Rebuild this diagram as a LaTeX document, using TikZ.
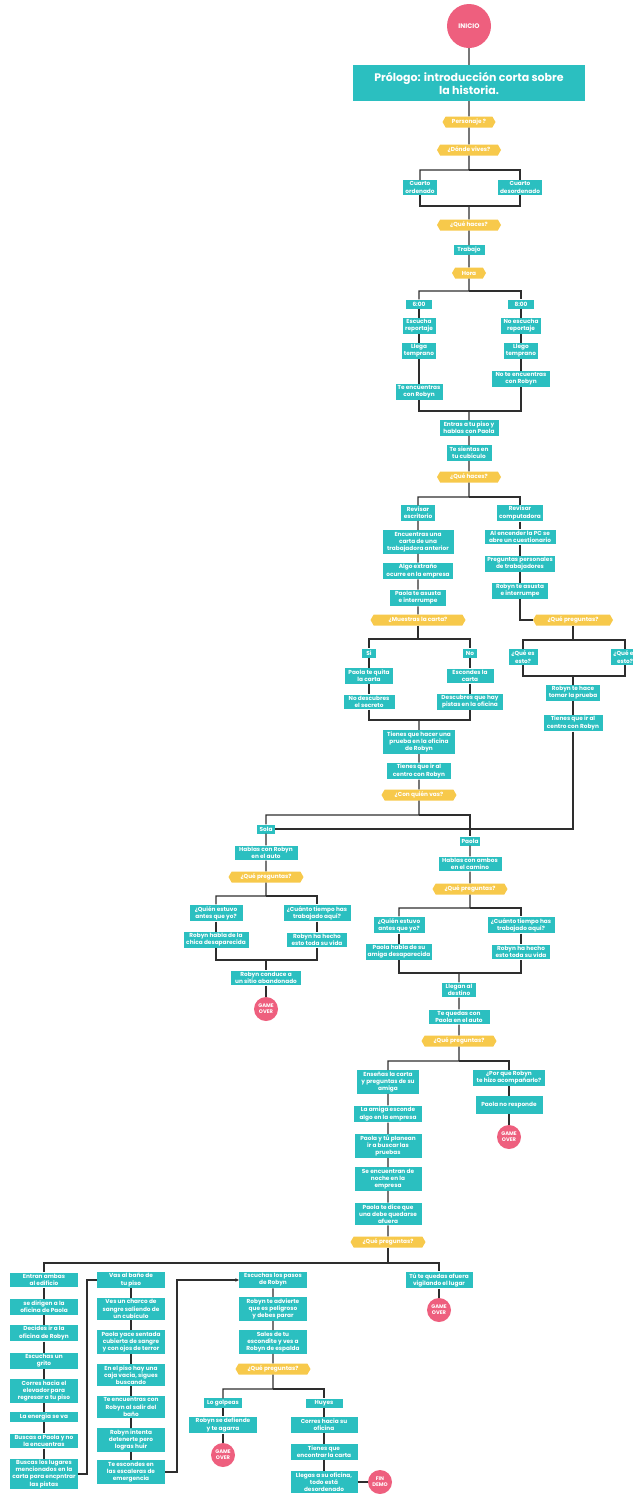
\documentclass[tikz,border=0pt]{standalone}
\usepackage{fontspec}
\setmainfont{Poppins}
\usetikzlibrary{shapes.symbols, arrows.meta}

\definecolor{boxteal}{HTML}{2BBFC0}
\definecolor{askyellow}{HTML}{F7C94B}
\definecolor{endpink}{HTML}{EE5F7E}
\definecolor{linegray}{HTML}{2E2E2E}

\newcommand{\boxfont}{\fontsize{5.8}{7.2}\selectfont\bfseries}
\newcommand{\prologfont}{\fontsize{11}{13}\selectfont\bfseries}
\newcommand{\dotfont}{\fontsize{5.2}{6.2}\selectfont\bfseries}

\begin{document}
\begin{tikzpicture}[x=1pt, y=-1pt,
  scene/.style={rectangle, fill=boxteal, text=white, font=\boxfont, align=center,
    inner xsep=2pt, inner ysep=1.6pt, minimum height=9pt},
  ask/.style={signal, signal to=east and west, signal pointer angle=120, fill=askyellow,
    text=white, font=\boxfont, inner xsep=1pt, inner ysep=1pt, minimum height=11pt},
  ending/.style={circle, fill=endpink, text=white, font=\dotfont, align=center,
    inner sep=0pt, minimum size=24pt},
  wd/.style={minimum width=#1pt},
  link/.style={draw=linegray, line width=1.3pt}]

\useasboundingbox (0,0) rectangle (632,1494);

% --- Start ---
\node[ending, minimum size=44pt, font=\fontsize{6.6}{8}\selectfont\bfseries] (inicio) at (469,26) {INICIO};
\node[scene, font=\prologfont, wd=232, minimum height=36pt] (prologo) at (469,83) {Prólogo: introducción corta sobre\\la historia.};
\node[ask, wd=53] (personaje) at (469,122) {Personaje ?};
\node[ask, wd=64] (vives) at (469,150) {¿Dónde vives?};
\coordinate (jvives) at (469,170);
\node[scene, wd=34] (ordenado) at (420,187.5) {Cuarto\\ordenado};
\node[scene, wd=44] (desordenado) at (520,187.5) {Cuarto\\desordenado};
\coordinate (mcuarto) at (469,206);
\node[ask, wd=64] (haces) at (469,225) {¿Qué haces?};
\node[scene, wd=31] (trabajo) at (469,250) {Trabajo};
\node[ask, wd=34] (hora) at (469,273) {Hora};
\coordinate (jhora) at (469,291);

% --- Hora ---
\node[scene, wd=26] (seis) at (419,304) {6:00};
\node[scene, wd=26] (ocho) at (521,304) {8:00};
\node[scene, wd=33] (escucha) at (419,326) {Escucha\\reportaje};
\node[scene, wd=40] (noescucha) at (521,326) {No escucha\\reportaje};
\node[scene, wd=32] (llegaA) at (419,351) {Llega\\temprano};
\node[scene, wd=32] (llegoB) at (521,351) {Llego\\temprano};
\node[scene, wd=47] (teencuentras) at (419,392) {Te encuentras\\con Robyn};
\node[scene, wd=58] (noteencuentras) at (521,379) {No te encuentras\\con Robyn};
\coordinate (mhora) at (469,411);
\node[scene, wd=59] (entras) at (469,428) {Entras a tu piso y\\hablas con Paola};
\node[scene, wd=45] (sientas) at (469,453) {Te sientas en\\tu cubículo};
\node[ask, wd=64] (haces2) at (469,477) {¿Qué haces?};
\coordinate (jhaces2) at (469,497);

% --- Escritorio / computadora ---
\node[scene, wd=34] (escritorio) at (418,513) {Revisar\\escritorio};
\node[scene, wd=44] (computadora) at (520,513) {Revisar\\computadora};
\node[scene, wd=71] (carta) at (418,542) {Encuentras una\\carta de una\\trabajadora anterior};
\node[scene, wd=70] (extrano) at (418,571) {Algo extraño\\ocurre en la empresa};
\node[scene, wd=56] (asustaP) at (418,598) {Paola te asusta\\e interrumpe};
\node[scene, wd=71] (pc) at (520,537) {Al encender la PC se\\abre un cuestionario};
\node[scene, wd=70] (personales) at (520,564) {Preguntas personales\\de trabajadores};
\node[scene, wd=56] (asustaR) at (520,591) {Robyn te asusta\\e interrumpe};
\node[ask, wd=95] (muestras) at (418,620) {¿Muestras la carta?};
\node[ask, wd=80] (preguntasPC) at (573,620) {¿Qué preguntas?};
\coordinate (jmuestras) at (418,639);
\node[scene, wd=14] (si) at (369,653) {Si};
\node[scene, wd=14] (no) at (470,653) {No};
\node[scene, wd=48] (quita) at (369,676) {Paola te quita\\la carta};
\node[scene, wd=51] (nodescubres) at (369,702) {No descubres\\el secreto};
\node[scene, wd=47] (escondes) at (470,676) {Escondes la\\carta};
\node[scene, wd=66] (descubres) at (470,702) {Descubres que hay\\pistas en la oficina};
\coordinate (mmuestras) at (419,720);
\node[scene, wd=72] (prueba) at (419,742) {Tienes que hacer una\\prueba en la oficina\\de Robyn};
\node[scene, wd=64] (centroA) at (419,771) {Tienes que ir al\\centro con Robyn};
\node[ask, wd=75] (conquien) at (419,795) {¿Con quién vas?};
\coordinate (jconquien) at (419,815);
\coordinate (jpc) at (573,640);
\node[scene, wd=29] (esto1) at (523,657) {¿Qué es\\esto?};
\node[scene, wd=29] (esto2) at (625,657) {¿Qué es\\esto?};
\coordinate (mpc) at (573,676);
\node[scene, wd=54] (tomar) at (573,693) {Robyn te hace\\tomar la prueba};
\node[scene, wd=59] (centroB) at (573,723) {Tienes que ir al\\centro con Robyn};

% --- Sola ---
\node[scene, wd=18] (sola) at (266,829) {Sola};
\node[scene, wd=63] (auto) at (266,853) {Hablas con Robyn\\en el auto};
\node[ask, wd=75] (preguntasS) at (266,877) {¿Qué preguntas?};
\coordinate (jS) at (266,896);
\node[scene, wd=53] (quienS) at (216,913) {¿Quién estuvo\\antes que yo?};
\node[scene, wd=67] (cuantoS) at (317,913) {¿Cuánto tiempo has\\trabajado aquí?};
\node[scene, wd=65] (chica) at (216,940) {Robyn habla de la\\chica desaparecida};
\node[scene, wd=60] (vidaS) at (317,940) {Robyn ha hecho\\esto toda su vida};
\coordinate (mS) at (266,960);
\node[scene, wd=70] (conduce) at (266,978) {Robyn conduce a\\un sitio abandonado};
\node[ending] (overS) at (266,1009) {GAME\\OVER};

% --- Paola ---
\node[scene, wd=20] (paola) at (470,841) {Paola};
\node[scene, wd=63] (ambos) at (470,864) {Hablas con ambos\\en el camino};
\node[ask, wd=75] (preguntasP) at (470,889) {¿Qué preguntas?};
\coordinate (jP) at (470,908);
\node[scene, wd=51] (quienP) at (399,925) {¿Quién estuvo\\antes que yo?};
\node[scene, wd=67] (cuantoP) at (521,925) {¿Cuánto tiempo has\\trabajado aquí?};
\node[scene, wd=66] (amiga) at (399,952) {Paola habla de su\\amiga desaparecida};
\node[scene, wd=58] (vidaP) at (521,952) {Robyn ha hecho\\esto toda su vida};
\coordinate (mP) at (459,973);
\node[scene, wd=34] (destino) at (459,990) {Llegan al\\destino};
\node[scene, wd=61] (quedas) at (459,1017) {Te quedas con\\Paola en el auto};
\node[ask, wd=75] (preguntasD) at (459,1041) {¿Qué preguntas?};
\coordinate (jD) at (459,1061);
\node[scene, wd=62] (ensenas) at (388,1082) {Enseñas la carta\\y preguntas de su\\amiga};
\node[scene, wd=72] (porque) at (509,1078) {¿Por que Robyn\\te hizo acompañarlo?};
\node[scene, wd=67, minimum height=18pt] (noresponde) at (509,1105) {Paola no responde};
\node[ending] (overD) at (509,1137) {GAME\\OVER};
\node[scene, wd=68] (esconde) at (388,1114) {La amiga esconde\\algo en la empresa};
\node[scene, wd=67] (planean) at (388,1146) {Paola y tú planean\\ir a buscar las\\pruebas};
\node[scene, wd=67] (noche) at (388,1179) {Se encuentran de\\noche en la\\empresa};
\node[scene, wd=67] (afueraP) at (388,1214) {Paola te dice que\\una debe quedarse\\afuera};
\node[ask, wd=75] (preguntasE) at (388,1242) {¿Qué preguntas?};
\coordinate (jE) at (388,1263);

% --- Edificio: first column ---
\node[scene, wd=68] (entran) at (44,1280) {Entran ambas\\al edificio};
\node[scene, wd=68] (dirigen) at (44,1307) {se dirigen a la\\oficina de Paola};
\node[scene, wd=68] (decides) at (44,1333) {Decides ir a la\\oficina de Robyn};
\node[scene, wd=68] (grito) at (44,1361) {Escuchas un\\grito};
\node[scene, wd=68] (elevador) at (44,1391) {Corres hacia el\\elevador para\\regresar a tu piso};
\node[scene, wd=68] (energia) at (44,1417) {La energía se va};
\node[scene, wd=68] (buscasP) at (44,1441) {Buscas a Paola y no\\la encuentras};
\node[scene, wd=68] (lugares) at (44,1474) {Buscas los lugares\\mencionados en la\\carta para encpntrar\\las pistas};
\coordinate (k1) at (87,1474);

% --- Edificio: second column ---
\node[scene, wd=68] (bano) at (131,1280) {Vas al baño de\\tu piso};
\node[scene, wd=68] (charco) at (131,1309) {Ves un charco de\\sangre saliendo de\\un cubículo};
\node[scene, wd=68] (yace) at (131,1342) {Paola yace sentada\\cubierta de sangre\\y con ojos de terror};
\node[scene, wd=68] (caja) at (131,1375) {En el piso hay una\\caja vacía, sigues\\buscando};
\node[scene, wd=68] (salir) at (131,1407) {Te encuentras con\\Robyn al salir del\\baño};
\node[scene, wd=68] (huir) at (131,1440) {Robyn intenta\\detenerte pero\\logras huir};
\node[scene, wd=68] (escaleras) at (131,1472) {Te escondes en\\las escaleras de\\emergencia};
\coordinate (k2) at (177,1472);

% --- Edificio: third column ---
\node[scene, wd=68] (pasos) at (273,1280) {Escuchas los pasos\\de Robyn};
\node[scene, wd=68] (advierte) at (273,1309) {Robyn te advierte\\que es peligroso\\y debes parar};
\node[scene, wd=68] (sales) at (273,1342) {Sales de tu\\escondite y ves a\\Robyn de espalda};
\node[ask, wd=75] (preguntasF) at (273,1369) {¿Qué preguntas?};
\coordinate (jF) at (273,1389);
\node[scene, wd=38] (golpeas) at (223,1403) {Lo golpeas};
\node[scene, wd=68] (defiende) at (223,1425) {Robyn se defiende\\y te agarra};
\node[ending] (overF) at (223,1455) {GAME\\OVER};
\node[scene, wd=37] (huyes) at (324,1403) {Huyes};
\node[scene, wd=67] (corres) at (324,1425) {Corres hacia su\\oficina};
\node[scene, wd=67] (encontrar) at (324,1452) {Tienes que\\encontrar la carta};
\node[scene, wd=67] (llegas) at (324,1482) {Llegas a su oficina,\\todo está\\desordenado};
\node[ending] (fin) at (380,1482) {FIN\\DEMO};

\node[scene, wd=67] (afuera) at (439,1280) {Tú te quedas afuera\\vigilando el lugar};
\node[ending] (overA) at (439,1310) {GAME\\OVER};

% --- Connectors ---
\draw[link] (inicio) -- (prologo) -- (personaje) -- (vives) -- (jvives) -| (ordenado);
\draw[link] (jvives) -| (desordenado);
\draw[link] (ordenado) |- (mcuarto) -| (desordenado);
\draw[link] (mcuarto) -- (haces) -- (trabajo) -- (hora) -- (jhora) -| (seis);
\draw[link] (jhora) -| (ocho);
\draw[link] (seis) -- (escucha) -- (llegaA) -- (teencuentras);
\draw[link] (ocho) -- (noescucha) -- (llegoB) -- (noteencuentras);
\draw[link] (teencuentras) |- (mhora) -| (noteencuentras);
\draw[link] (mhora) -- (entras) -- (sientas) -- (haces2) -- (jhaces2) -| (escritorio);
\draw[link] (jhaces2) -| (computadora);
\draw[link] (escritorio) -- (carta) -- (extrano) -- (asustaP) -- (muestras);
\draw[link] (computadora) -- (pc) -- (personales) -- (asustaR);
\draw[link] (asustaR) |- (preguntasPC);
\draw[link] (muestras) -- (jmuestras) -| (si);
\draw[link] (jmuestras) -| (no);
\draw[link] (si) -- (quita) -- (nodescubres);
\draw[link] (no) -- (escondes) -- (descubres);
\draw[link] (nodescubres) |- (mmuestras) -| (descubres);
\draw[link] (mmuestras) -- (prueba) -- (centroA) -- (conquien) -- (jconquien) -| (sola);
\draw[link] (jconquien) -| (paola);
\draw[link] (preguntasPC) -- (jpc) -| (esto1);
\draw[link] (jpc) -| (esto2);
\draw[link] (esto1) |- (mpc) -| (esto2);
\draw[link] (mpc) -- (tomar) -- (centroB);
\draw[link] (centroB) |- (sola);

\draw[link] (sola) -- (auto) -- (preguntasS) -- (jS) -| (quienS);
\draw[link] (jS) -| (cuantoS);
\draw[link] (quienS) -- (chica);
\draw[link] (cuantoS) -- (vidaS);
\draw[link] (chica) |- (mS) -| (vidaS);
\draw[link] (mS) -- (conduce) -- (overS);

\draw[link] (paola) -- (ambos) -- (preguntasP) -- (jP) -| (quienP);
\draw[link] (jP) -| (cuantoP);
\draw[link] (quienP) -- (amiga);
\draw[link] (cuantoP) -- (vidaP);
\draw[link] (amiga) |- (mP) -| (vidaP);
\draw[link] (mP) -- (destino) -- (quedas) -- (preguntasD) -- (jD) -| (ensenas);
\draw[link] (jD) -| (porque);
\draw[link] (porque) -- (noresponde) -- (overD);
\draw[link] (ensenas) -- (esconde) -- (planean) -- (noche) -- (afueraP) -- (preguntasE);
\draw[link] (preguntasE) -- (jE) -| (entran);
\draw[link] (jE) -| (afuera);
\draw[link] (afuera) -- (overA);

\draw[link] (entran) -- (dirigen) -- (decides) -- (grito) -- (elevador) -- (energia) -- (buscasP) -- (lugares);
\draw[link] (lugares) -- (k1) |- (bano);
\draw[link] (bano) -- (charco) -- (yace) -- (caja) -- (salir) -- (huir) -- (escaleras);
\draw[link, -{Stealth[length=3.5pt, width=3.5pt]}] (escaleras) -- (k2) |- (pasos);
\draw[link] (pasos) -- (advierte) -- (sales) -- (preguntasF) -- (jF) -| (golpeas);
\draw[link] (jF) -| (huyes);
\draw[link] (golpeas) -- (defiende) -- (overF);
\draw[link] (huyes) -- (corres) -- (encontrar) -- (llegas) -- (fin);

\end{tikzpicture}
\end{document}
